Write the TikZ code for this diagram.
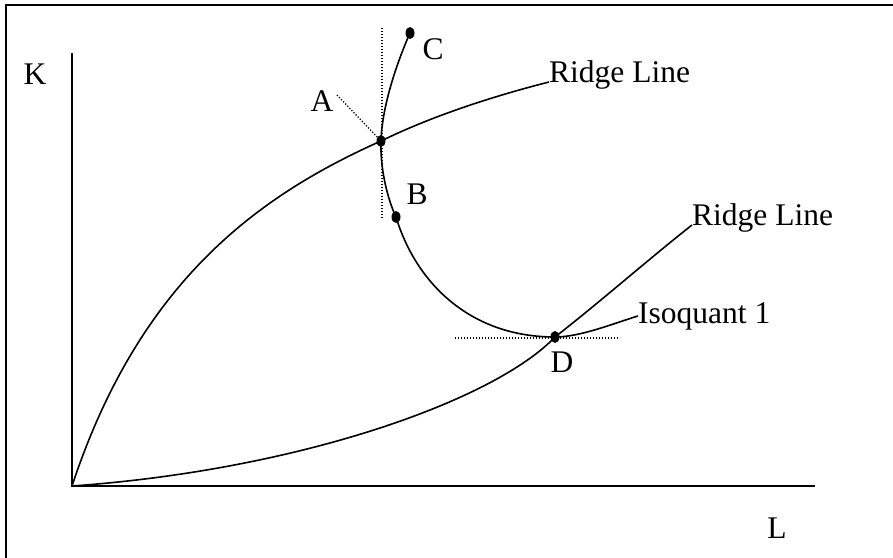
\documentclass[tikz,border=0pt]{standalone}
\usepackage{fontspec}
\setmainfont{Liberation Serif}
\usetikzlibrary{positioning}

\begin{document}
\begin{tikzpicture}[
		x=1pt, y=-1pt,
		curve/.style={line width=1.6pt},
		guide/.style={line width=1.3pt, dash pattern=on 1.2pt off 1.8pt},
		lab/.style={font=\fontsize{31.5}{36}\selectfont, inner sep=0pt},
		pointdot/.style={fill=black}
		]
		\useasboundingbox (0,0) rectangle (893,557);
		
		% frame
		\draw[line width=2.6pt] (6,5) rectangle (920,590);
		
		% axes
		\coordinate (O) at (72,486);
		\coordinate (ytop) at (72,53);
		\coordinate (xend) at (815,486);
		\draw[curve] (ytop) -- (O) -- (xend);
		\node[lab] (kax) at (35,74) {K};
		\node[lab] (lax) at (777,528) {L};
		
		% points on the isoquant
		\coordinate (C) at (410,33);
		\coordinate (A) at (381,141);
		\coordinate (B) at (396,217);
		\coordinate (D) at (555,337);
		
		% ridge lines
		\node[lab, anchor=base west] (ridgeup) at (549,82) {Ridge Line};
		\node[lab, anchor=base west] (ridgelow) at (692,225) {Ridge Line};
		\draw[curve] (O) .. controls (140,280) and (260,195) .. (A)
			.. controls (430,117) and (490,97) .. (ridgeup.base west);
		\draw[curve] (O) .. controls (300,470) and (495,400) .. (D)
			.. controls (600,302) and (650,258) .. (ridgelow.base west);
		
		% isoquant
		\node[lab, anchor=base west] (iso) at (638,323) {Isoquant 1};
		\draw[curve] (C) .. controls (398,60) and (382,105) .. (A)
			.. controls (380,170) and (388,200) .. (B)
			.. controls (416,283) and (470,337) .. (D)
			.. controls (580,337) and (612,324) .. (iso.west);
		
		% tangents
		\coordinate (vtop) at (382,28);
		\coordinate (vbot) at (382,218);
		\coordinate (hleft) at (455,338);
		\coordinate (hright) at (620,338);
		\draw[guide] (vtop) -- (vbot);
		\draw[guide] (hleft) -- (hright);
		
		% point labels
		\node[lab] (labA) at (322,101) {A};
		\node[lab] (labB) at (417,194) {B};
		\node[lab] (labC) at (433,49) {C};
		\node[lab] (labD) at (562,362) {D};
		\coordinate (atip) at (337,95);
		\draw[guide] (atip) -- (A);
		
		% dots
		\foreach \p in {A,B,C,D}{
			\fill[pointdot] (\p) ellipse [x radius=4.5pt, y radius=6pt];
		}
		
	\end{tikzpicture}
\end{document}
